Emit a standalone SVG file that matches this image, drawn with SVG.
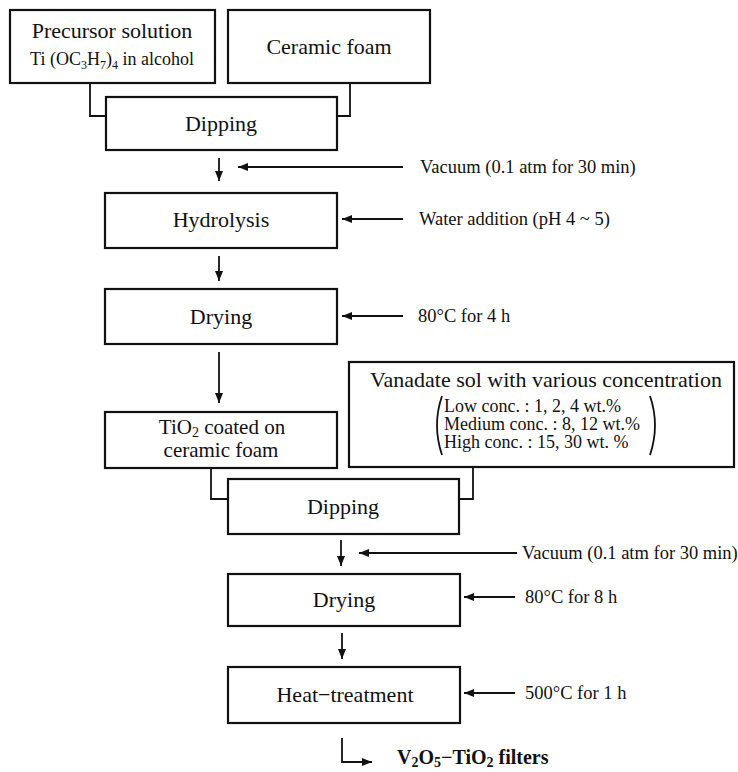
<svg xmlns="http://www.w3.org/2000/svg" width="738" height="772" viewBox="0 0 738 772">
<defs>
<style>
.box{fill:#fff;stroke:#111;stroke-width:2.2}
.ln{fill:none;stroke:#111;stroke-width:1.8}
.t{font-family:"Liberation Serif","Times New Roman",serif;fill:#111}
.lb{font-size:22px;text-anchor:middle}
.sd{font-size:18.5px}
.sm{font-size:18px}
</style>
<marker id="ah" viewBox="0 0 10 10" refX="10" refY="5" markerWidth="10" markerHeight="10" markerUnits="userSpaceOnUse" orient="auto">
<path d="M0,1 L10,5 L0,9 z" fill="#111"/>
</marker>
</defs>
<rect width="738" height="772" fill="#fff"/>

<g id="connectors">
<path class="ln" d="M90,83 V116 H106"/>
<path class="ln" d="M350,83 V116 H337"/>
<path class="ln" d="M219,158 V181" marker-end="url(#ah)"/>
<path class="ln" d="M403,167 H238" marker-end="url(#ah)"/>
<path class="ln" d="M219,256 V281" marker-end="url(#ah)"/>
<path class="ln" d="M403,219 H342" marker-end="url(#ah)"/>
<path class="ln" d="M403,316 H342" marker-end="url(#ah)"/>
<path class="ln" d="M219,352 V403" marker-end="url(#ah)"/>
<path class="ln" d="M211,468 V499 H228"/>
<path class="ln" d="M473,467 V499 H459"/>
<path class="ln" d="M341,540 V566" marker-end="url(#ah)"/>
<path class="ln" d="M517,553 H359" marker-end="url(#ah)"/>
<path class="ln" d="M515,597 H464" marker-end="url(#ah)"/>
<path class="ln" d="M342,633 V659" marker-end="url(#ah)"/>
<path class="ln" d="M515,693 H464" marker-end="url(#ah)"/>
<path class="ln" d="M342,738 V762 H372" marker-end="url(#ah)"/>
</g>

<g id="precursor">
<rect class="box" x="10" y="10" width="205" height="73"/>
<text class="t lb" x="112" y="38">Precursor solution</text>
<text class="t sm" x="112" y="65" text-anchor="middle">Ti (OC<tspan font-size="12" dy="4">3</tspan><tspan dy="-4">H</tspan><tspan font-size="12" dy="4">7</tspan><tspan dy="-4">)</tspan><tspan font-size="12" dy="4">4</tspan><tspan dy="-4"> in alcohol</tspan></text>
</g>

<g id="ceramic">
<rect class="box" x="228" y="10" width="202" height="73"/>
<text class="t lb" x="329" y="54">Ceramic foam</text>
</g>

<g id="dipping1">
<rect class="box" x="106" y="97" width="231" height="53"/>
<text class="t lb" x="221" y="131">Dipping</text>
</g>
<text class="t sd" x="420" y="173">Vacuum (0.1 atm for 30 min)</text>

<g id="hydrolysis">
<rect class="box" x="105" y="193" width="232" height="55"/>
<text class="t lb" x="221" y="227">Hydrolysis</text>
</g>
<text class="t sd" x="419" y="225">Water addition (pH 4 ~ 5)</text>

<g id="drying1">
<rect class="box" x="105" y="289" width="232" height="55"/>
<text class="t lb" x="221" y="324">Drying</text>
</g>
<text class="t sd" x="418" y="322">80°C for 4 h</text>

<g id="tio2">
<rect class="box" x="105" y="412" width="232" height="56"/>
<text class="t" font-size="21" text-anchor="middle" x="222" y="434">TiO<tspan font-size="14" dy="3">2</tspan><tspan dy="-3"> coated on</tspan></text>
<text class="t" font-size="21" text-anchor="middle" x="221" y="457">ceramic foam</text>
</g>

<g id="vanadate">
<rect class="box" x="349" y="362" width="385" height="105"/>
<text class="t lb" x="546" y="387">Vanadate sol with various concentration</text>
<text class="t sm" x="444" y="412">Low conc. : 1, 2, 4 wt.%</text>
<text class="t sm" x="444" y="430">Medium conc. : 8, 12 wt.%</text>
<text class="t sm" x="444" y="448">High conc. : 15, 30 wt. %</text>
<path class="ln" stroke-width="1.4" d="M442,396 Q432,425 442,455"/>
<path class="ln" stroke-width="1.4" d="M650,396 Q660,425 650,455"/>
</g>

<g id="dipping2">
<rect class="box" x="228" y="479" width="231" height="55"/>
<text class="t lb" x="343" y="514">Dipping</text>
</g>
<text class="t sd" x="522" y="559">Vacuum (0.1 atm for 30 min)</text>

<g id="drying2">
<rect class="box" x="228" y="574" width="232" height="52"/>
<text class="t lb" x="344" y="607">Drying</text>
</g>
<text class="t sd" x="525" y="603">80°C for 8 h</text>

<g id="heat">
<rect class="box" x="228" y="667" width="232" height="56"/>
<text class="t lb" x="345" y="702">Heat−treatment</text>
</g>
<text class="t sd" x="525" y="699">500°C for 1 h</text>

<g id="product">
<text class="t" x="397" y="764" font-size="20" font-weight="bold">V<tspan font-size="14" dy="3">2</tspan><tspan dy="-3">O</tspan><tspan font-size="14" dy="3">5</tspan><tspan dy="-3">−TiO</tspan><tspan font-size="14" dy="3">2</tspan><tspan dy="-3"> filters</tspan></text>
</g>
</svg>
